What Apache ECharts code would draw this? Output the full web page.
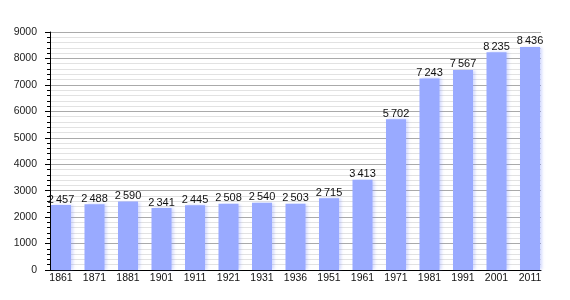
<!DOCTYPE html>
<html>
<head>
<meta charset="utf-8">
<script src="https://cdn.jsdelivr.net/npm/echarts@6/dist/echarts.min.js"></script>
<style>html,body{margin:0;padding:0;background:#fff}#c{width:570px;height:300px}</style>
</head>
<body>
<div id="c"></div>
<script>
const years = ['1861','1871','1881','1901','1911','1921','1931','1936','1951','1961','1971','1981','1991','2001','2011'];
const population = [2457,2488,2590,2341,2445,2508,2540,2503,2715,3413,5702,7243,7567,8235,8436];
const yMin = 0, yMax = 9000, yStep = 1000;

function fmt(v){ return String(v).replace(/\B(?=(\d{3})+(?!\d))/g, '\u2009'); }

const chart = echarts.init(document.getElementById('c'), null, {renderer:'canvas'});
chart.setOption({
  animation:false,
  textStyle:{fontFamily:'Liberation Sans, Arial, sans-serif'},
  grid:[
    {left:50, right:29, top:32, bottom:30},
    {left:44.25, right:23.25, top:32, bottom:30}
  ],
  xAxis:[
    {type:'category', gridIndex:0, data:years, axisLine:{show:true, lineStyle:{color:'#000', width:1}},
     axisTick:{show:false}, axisLabel:{show:false}, splitLine:{show:false}},
    {type:'category', gridIndex:1, data:years, axisLine:{show:false}, axisTick:{show:false},
     axisLabel:{show:true, margin:3, fontSize:10.5, color:'#111', fontFamily:'Liberation Sans'}}
  ],
  yAxis:[
    {type:'value', gridIndex:0, min:yMin, max:yMax, interval:yStep,
     axisLine:{show:true, lineStyle:{color:'#000'}},
     axisTick:{show:true, length:5, lineStyle:{color:'#000'}},
     minorTick:{show:true, splitNumber:5, length:3, lineStyle:{color:'#000'}},
     splitLine:{show:true, lineStyle:{color:'#aaaaaa', width:1}},
     minorSplitLine:{show:true, lineStyle:{color:'#e2e2e2', width:1}},
     axisLabel:{margin:13, fontSize:10.5, color:'#222', fontFamily:'Liberation Sans', formatter:v=>String(v)}},
    {type:'value', gridIndex:1, min:yMin, max:yMax, interval:yStep, show:false, splitLine:{show:false}}
  ],
  series:[{
    type:'bar', xAxisIndex:1, yAxisIndex:1, data:population, barWidth:20,
    itemStyle:{color:'#99aaff', shadowColor:'rgba(120,140,255,0.35)', shadowBlur:3, shadowOffsetX:2},
    label:{show:true, position:'top', distance:0, fontSize:11, color:'#111', fontFamily:'Liberation Sans',
      formatter:p=>fmt(p.value)}
  }]
});
</script>
</body>
</html>
